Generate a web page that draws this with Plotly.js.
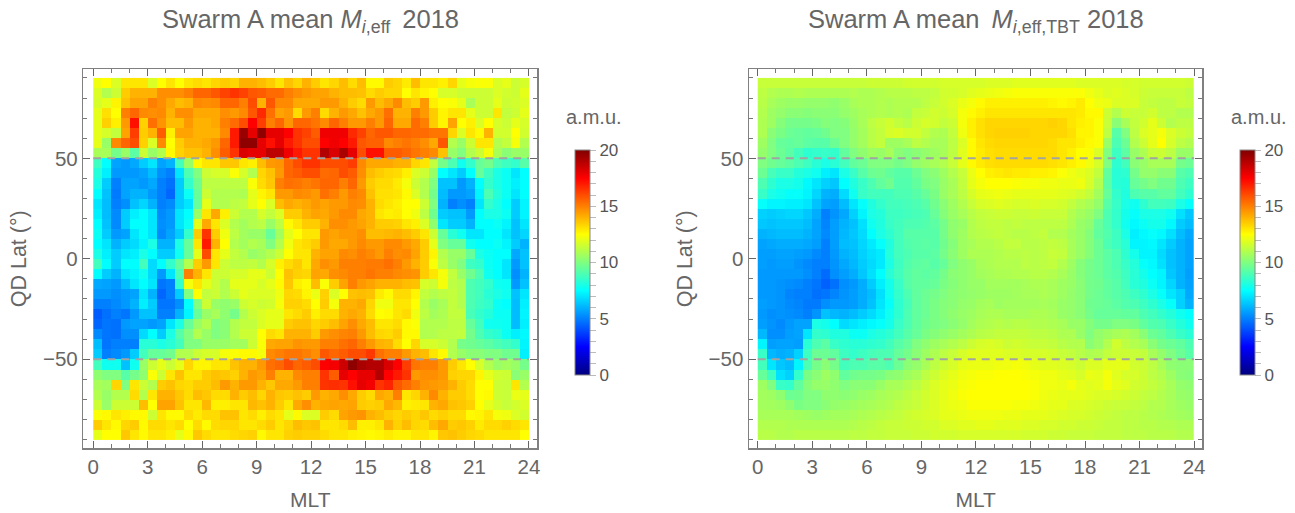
<!DOCTYPE html>
<html><head><meta charset="utf-8">
<script src="https://cdn.plot.ly/plotly-3.0.1.min.js"></script>
<style>html,body{margin:0;padding:0;background:#fff}#g{width:1295px;height:513px}</style>
</head><body><div id="g"></div>
<script>
const mlt=[0.25,0.75,1.25,1.75,2.25,2.75,3.25,3.75,4.25,4.75,5.25,5.75,6.25,6.75,7.25,7.75,8.25,8.75,9.25,9.75,10.25,10.75,11.25,11.75,12.25,12.75,13.25,13.75,14.25,14.75,15.25,15.75,16.25,16.75,17.25,17.75,18.25,18.75,19.25,19.75,20.25,20.75,21.25,21.75,22.25,22.75,23.25,23.75];
const lat=[87.5,82.5,77.5,72.5,67.5,62.5,57.5,52.5,47.5,42.5,37.5,32.5,27.5,22.5,17.5,12.5,7.5,2.5,-2.5,-7.5,-12.5,-17.5,-22.5,-27.5,-32.5,-37.5,-42.5,-47.5,-52.5,-57.5,-62.5,-67.5,-72.5,-77.5,-82.5,-87.5];
const meanEff=[
[12.2,12.5,11.8,13,13,13,11.8,12.5,13,12.5,13,13.2,13,13.3,13.5,13.3,14,14,13.8,13.5,13,13.7,13.3,14,13.5,13,13.3,13.8,13.2,13.8,12.6,12.6,13.5,13.3,12.9,13.8,13,13,12.8,13.3,12,12.3,12.4,12.4,11.8,12,11.5,11.7],
[11.8,11,11.5,13.5,14,14,14,14.7,14.7,14.7,15,15.5,15.5,15.8,16.2,16.5,16.2,15.8,15.7,15.4,15.4,15,14.7,14.5,14.3,14.3,14,13.8,13.8,13.7,13.2,13.5,13.3,13.3,12.5,13,12.7,12.5,11.7,11.7,11.5,11.5,11.5,11.5,11.8,11.6,11.5,12],
[11.7,12,12.7,13.7,14.3,14.3,15,14.7,14.2,13.8,14,14.8,14.7,14.8,15.5,15.5,15,16,14,15.8,14.8,14.8,14.2,14.2,14.2,14.5,14.5,14,13.5,13.2,14.5,13.8,14.2,14.8,13.8,13.5,14.5,12.8,12.5,12.4,12,10.8,11.5,11.5,12,11.5,11.6,11.8],
[12,13.1,12.5,15,15.5,14.8,14.7,14.8,14,14.7,14.7,14.2,14.2,14.2,14.7,14.5,14.8,15.8,16.7,15.3,14.3,14.5,13.2,14.5,15,13.2,14,14.5,14.2,13.7,14.2,14.5,15.3,14,14,15,14.5,13.5,12.7,13,13,12,11.5,11.5,13,11.3,11.5,12],
[12,13.4,12.8,14.5,17.2,13.4,15.3,14.6,13.8,13.8,14.5,14,14,14.2,15,15.4,16,17.5,16.3,15,15.5,14.6,15.5,15.5,15.2,14.8,15.5,15,14.5,14.5,15,14.5,15.5,14.2,14.2,15.4,15,13.5,12.7,14.3,12.5,12.8,11.8,12.5,11.7,11.5,12,11.7],
[12,11.7,11.3,14.3,16.3,13.5,14,15.7,12.8,14.3,14.3,14,14,14,14.8,17,19.5,18,19.7,18,18,17.5,16.5,16.2,15.7,17.8,17.8,17.8,16.7,16.2,15.5,15.8,15.8,15.5,15.5,15.4,15.4,15.2,15.2,13.3,11.8,13,12.6,14,11.6,11.6,12.5,11.6],
[12,10.5,14.8,15.5,16,13.4,11.8,14.8,12.5,13.5,14,14,14.2,14.5,15.5,17,19.7,19.7,18,17.2,18,17,16.5,16,16,17.5,17.8,17.5,17,15.8,15.6,15.6,14.8,15,15.2,15,14.7,14.2,15.8,11,10.5,11.5,13,13,11,11.3,12.3,11],
[10.8,10.8,9.8,10.5,9.3,11.5,10.5,11,12.6,13.4,13.7,13.7,14,14.7,15.7,16.5,18.2,18,18,18.8,18.8,17.8,17,16.5,16.5,19,18.2,19.2,18,16,17.2,17.2,15.7,15.7,15.5,15.2,15,14.8,13.7,10.5,10,11,11.5,12.3,10.8,10.2,10.5,10.5],
[8.7,7.5,5.7,5.5,5.8,6.5,7,5.7,6,8.8,10.5,12.6,13,13,13.6,13.6,13,12.8,13.8,14.5,14.6,15.5,16,16.5,16.5,16,16,16,16.3,14.8,14.2,14.2,14.2,14,14,13.3,13,11.3,9.8,9,7.8,8.5,9.5,9.8,9,8.7,8.5,9.2],
[8.2,7.2,5.5,5.5,5.5,5.7,6.2,5.3,5,7,9,10,11.5,11.7,11.7,12.4,11.7,11,13.3,13.7,14.5,15.5,15.7,16,16,15.4,15.5,16,15.7,14.7,13.8,13.5,13.3,13.2,12.8,11.8,11.5,10.5,7.5,7,6.5,7.5,9.5,8.7,8,7.7,7,7.5],
[8,6.5,5,5.7,5.7,5.5,5.8,5,4.7,6.5,8.5,9.7,11.2,11.2,11.2,11.2,11.2,12.4,13.2,13.6,15,15.3,15.2,15,15.2,15.5,15.5,15,15.5,14.5,13.5,13.2,13.2,12.9,12.3,11.5,11,10,6.3,6.3,5.5,6,7.5,8.5,8,7.7,7.2,7.5],
[7.5,6.3,4.9,5.7,6,6,5.5,5,4.5,6.5,7.7,9.5,11.5,11,11,11,10.9,12,12.7,13,14.5,14.5,14.8,14.7,14.5,15.3,15,14.5,15,14.8,13.7,13.1,13.1,13,12.6,11.8,11,9.8,6.2,5.5,5.5,5.7,7.3,9,8.2,7.7,7,7.5],
[7,6.2,5,5.3,6.3,6.7,6,5,5.2,6.5,7,9.5,12,11,11,11.2,11.3,12,12.5,11.8,13.8,14.2,14,14.2,14.5,14.3,14.5,14.5,14.8,14.7,14,13.2,13,12.8,12.5,12.5,11.5,10,6,5,5.3,5,7,8.5,8,7.5,6.5,7.3],
[7.2,6.2,5.2,6.5,7.2,7.5,7,5.2,5.5,7,7.5,10.5,13,14.2,12.8,11.5,11,11,11.7,11.3,11.8,13.5,13.5,14,14.3,14.2,14.5,14.8,14.8,14.2,14,13,12.8,12.9,12.5,12.2,11.2,9.7,6.5,6.3,6.3,5.5,7.5,8,8,7.7,6.5,7.3],
[7.5,6.3,5.2,6.5,7.5,7.5,7,5.3,5.5,7,7.7,12,14.2,13,11.8,11,10.7,11,11.2,10.5,11.2,12.6,13,13.5,13.5,14,14.7,14.7,14.5,14.3,14,13.5,13.5,13.4,13,12.8,11.8,10.3,7,6.5,6.5,6,7.5,7.5,7.7,7.3,6.3,7],
[7.7,6.5,5.5,5.7,7,7.5,7,5.2,5.7,6.5,8.5,13.5,16.5,13.5,12.2,11.2,10.7,10.5,10.5,9.5,10.7,12,12.5,13,13,14.5,14.3,14.5,14.5,14.7,13.8,13.8,13.9,14,13.8,13.5,13,11.5,9.5,8.3,7.8,7,7,7.5,7.5,7,6.3,6.7],
[7.5,7,6,6.5,6.8,7.3,8,6,6,8,9.5,13,17,14,12.5,11,10.7,11,10.8,10,11,12.2,13,13.2,13.5,14.5,14.2,14.2,14.5,14.8,14.5,14.5,14.8,14.8,14.5,14.2,13.5,12,10,9.5,9.5,7.8,7.5,7.5,7.7,7.3,6.5,6],
[8,7.2,6.5,7,7.2,8,7.5,6.5,6.5,7.8,9.5,12,16,13,12,11.3,11,10.5,10.7,11,11.5,12.5,13,13,14,14.3,14.3,14.8,14.7,15,14.8,14.5,15,14.7,14.8,14.3,13.5,12.7,11,10.5,10.5,9.5,8,7.7,7.5,7.5,5.8,6.3],
[8.8,7.5,6.5,7.5,7.5,8.8,6.8,7.5,8.5,9.5,11,13.5,14.5,13,11.5,11.2,11.2,11.3,11,11.7,12.8,13.2,13.5,13,14.2,14.7,14.5,15,15,15,15.1,15.1,15.3,15,14.5,14,13.5,12.4,11.2,10.5,10,8.7,8.5,7.7,7.5,7,5.5,6.3],
[7.5,6.5,6,7,7.3,7.8,6.8,5.5,7,9,15,14,13,11.5,11.5,11.7,11.7,12,12,11.5,12.5,13.7,13.4,13.3,14.3,14.2,14.7,14.8,15,15,15.2,15,15,14.8,14.7,14.6,13.5,13,12.3,11.3,10.5,9.7,9,7.8,7.5,7,5.3,6],
[5.8,5.7,5.5,6.2,7,7.5,7,4.8,5,8.5,12.3,13,12,11.5,11,12,12,12,11.7,12,12.6,13.6,12.8,12.6,13.8,12.4,13.5,14.3,15,14.5,14.3,14,14,14,13.8,13.7,11.7,11.5,12.3,11.2,11,9,8.8,8.5,7.8,7.7,5.5,6.3],
[5.5,5.5,5.3,5.5,5.7,7,6,4.5,5,6.5,10,12.5,11.3,11.5,11,11.5,12,11.8,11.8,11.8,12.2,13.3,13.2,12.7,12.1,13.4,11.8,12.5,13.7,13.8,13.7,12.9,12.6,13.2,13.2,12.7,11.3,11,11.2,11.3,11,9,8.8,8.3,8,7.8,6.3,7],
[5,5,5.2,5.5,6,7.2,6.5,4.8,4.8,5.3,7.5,10,11.5,10.5,10.3,10.5,11.5,11.7,11.5,11.6,12.3,13.4,13.4,13.2,12.5,13.5,12.3,14,14,14.2,13.3,12.2,12.2,13,13,12.5,11,10.5,10.8,11.3,11,9,8.7,8.5,7.7,7.5,6.2,7.2],
[4.3,4.7,5,4.8,5.5,6.3,6.3,5,5,6,7.3,9.5,10.5,10.8,10.3,9.8,11,11.5,11.8,12,12,13,13.2,13.5,12.8,13.2,13.2,14,14.2,14,13.2,12.5,12.6,13,13.2,12.2,11.2,10.7,10.9,11.3,11.3,8.9,8.5,8.2,7.7,7.7,6.2,7.3],
[4.5,4.8,4.7,5.5,5.7,5.7,5.5,5.7,7,8,9.5,10.5,11,10,10.2,11,11.3,11.3,11.8,12,12,13.5,13.7,13.7,13.3,13.5,13.8,14.3,14.7,14.2,13.8,13,13,13.2,12.6,12.4,11,11,11,11.2,11.2,9.5,8.8,7.8,7.8,7.7,6.2,7.2],
[5.2,4.8,4.7,5.3,5.3,6.8,7.5,6.5,8,9.2,10,11,10.5,10,10.2,11,11.5,11.5,12.5,13.2,13,14,14,14,13.5,14.5,14.7,14.9,15,14.5,13.8,13.3,13.2,13.5,12.6,12.6,11,11,11.2,11.2,11.3,9.8,9,8.5,8.3,7.7,7.2,7.4],
[6.2,4.8,5,5,5,8.3,8.3,8,8.3,8.8,10,10,10.5,10.5,10.5,10.7,10.7,11.5,12.4,14.2,14.3,14.3,14.6,14.5,14.5,15,15,15.3,15.5,15,14.5,14,13.9,13.2,12.5,13.3,11.7,11.7,11.5,11,9.8,9.7,9.5,9.3,9,8.8,8.5,7.3],
[6.5,5,5.2,5.5,6.5,8.8,9.5,9.5,9.7,11,11,11.5,11.7,11.7,12.3,12.4,12.6,12.6,12.3,14.8,15,15.2,15.2,15,14.7,15.8,15.5,15.7,16,16,16.4,15.3,15,15,14.5,14,13.8,13,12.6,11,10.5,10.2,10.2,10,10,9.7,9.7,7.2],
[8.8,7.8,7.8,6.3,7.8,10.5,11.5,12,11.5,12,13.3,12.7,12.7,13,13,13.7,14,14,14.5,15.3,15.5,16,15.5,15.7,16,17.5,17.7,18.5,19.7,19.2,19,19,18.2,17.5,16.3,15.2,15,15,14.5,13.5,13,12.5,11.7,11,10.5,10.7,10.5,9.8],
[10.3,10,10,9.2,9.8,10.3,12.4,11.5,13,13.7,13,13,13.5,13.7,13.6,13.4,14,14.5,14.3,15,14,14,14.8,15,15,16.5,15.7,18,17.5,18,18,19,17.5,17,16.5,14.5,14.7,14.7,14.5,13.4,13.3,13.3,12.7,12,11.6,11.5,10.2,10.5],
[10.8,10.7,13.3,10,13,11.5,11,13.5,13.7,13.3,13.2,13.5,13.5,13.8,14.5,14,14.5,14.5,14,13.6,14.2,14.2,14.5,15,15,16.5,16.6,16.5,17.2,18,17.7,16.5,16.8,15.8,15.4,15,14.6,14.5,14.4,14,13.5,13.2,12.5,12.5,11.5,11.4,13,11],
[11,10.5,11,11,13.2,11,13,14,14,13.6,13.2,13.8,13.6,13.2,13.2,14,13.5,13.8,13.3,14,13.6,13.5,13.7,13.5,14.5,14,14.2,14.7,14.2,13.5,13.2,14.2,14,15,13,13.3,14,14.8,14,13.5,13.5,13.2,12.5,12.6,11.5,11.4,12.1,12],
[11.5,10.5,11.5,11.5,11.5,13.8,12.5,14.3,14.3,13.7,13,13,13.9,12.8,12.8,13,13,13.9,13.7,14,13.5,13,14.2,14.7,14,14.2,14.3,14.2,14.3,13.5,13.4,13.5,14.2,13.9,12.8,12.9,13,14,14.2,13.7,13.6,13.4,12.5,12,11.6,11.4,11.6,11.8],
[12.4,12.6,13,12.8,12.6,12.6,11.5,13,12.6,12.6,13.2,12.9,13.2,13.2,13.7,13.7,13,13.2,12.8,13.2,13,12,12.6,11.8,11.8,13.5,13.2,14.3,14.5,14.6,14,13.8,13.5,13.3,13.5,13.3,13.6,13.2,13.4,13.2,13.2,12.6,12.7,13,12.3,12.2,11.8,11.6],
[13.5,13,12.6,13.3,13.5,12.6,13.2,13.2,13,13.2,12.5,13.2,12.6,13.2,13.3,13.3,13,13,13.2,13.5,13,13.3,13.8,13.6,13.7,13,13,13.2,13.8,12.8,12.8,13,14,13.4,13.8,13.3,13.2,13.8,14.2,13.5,13.6,13.4,12.9,13.2,13.2,13.4,13.2,13],
[12,12.5,12.5,13.6,13,12.6,13,13,12.8,12,12.6,13.6,13.2,13,13,13.2,13.3,13.4,12.6,13,13,13.4,13.5,13.4,13.4,13.2,13,13,12.8,12.7,12.6,12.7,12.9,12.7,12.7,13,13,12.7,13.6,13.7,13.5,13.3,13.2,13,13,13,13,12.5]
];
const meanEffTBT=[
[11.4,11.4,11.4,11.4,11.4,11.4,11.4,11.4,11.4,11.4,11.4,11.4,11.5,11.5,11.5,11.5,11.6,11.6,11.6,11.6,11.7,11.7,11.7,11.7,11.7,11.8,11.8,11.8,11.9,11.9,11.9,11.9,11.9,11.9,11.9,11.8,11.8,11.8,11.8,11.8,11.7,11.7,11.6,11.6,11.6,11.6,11.6,11.5],
[11.2,11,10.9,10.9,11,10.9,10.9,10.9,10.9,10.9,11,10.9,10.9,11,11.1,11.1,11.1,11.2,11.2,11.3,11.6,11.6,11.7,11.9,12,12.1,12.2,12.3,12.4,12.4,12.4,12.4,12.4,12.4,12.4,12.4,12.2,12,11.8,11.9,11.8,11.7,11.5,11.4,11.4,11.4,11.4,11.2],
[11.1,10.8,10.6,10.5,10.5,10.4,10.4,10.4,10.3,10.5,10.8,10.9,10.9,11,10.9,11,11,11,11.2,11.4,11.6,11.8,12.1,12.3,12.6,12.8,12.8,12.8,12.8,12.8,12.8,12.8,12.7,12.6,12.7,12.9,12.5,12.2,12.1,11.8,11.8,11.8,11.4,11.3,11.2,11.2,11.4,11.3],
[11,10.6,10.4,10.2,10.2,10.1,10.2,10.2,10.2,10.4,10.6,10.8,10.9,11,10.9,11,10.9,11.3,11.4,11.6,11.5,11.7,12.3,12.6,12.8,13,13,13,13,13,13,13,13,13,13,12.9,12.6,12.6,11.5,11,11.5,11.4,11.4,11.6,11.2,11.2,11,11],
[10.9,10.6,10.1,9.8,9.8,9.8,9.9,10.1,10,10.1,10.5,10.8,11.2,11.4,11.6,11.3,11.1,11.5,11.7,11.6,11.3,11.5,12.3,12.8,13.1,13.3,13.3,13.3,13.3,13.3,13.3,13.3,13.4,13.3,13,12.8,12.7,12.4,11.4,10.2,10.8,11.3,11.6,12,11.5,11,11.2,11.2],
[10.9,10.2,9.9,9.6,9.5,9.4,9.5,9.7,10,10,10.4,10.7,11.1,11.3,11.7,11.8,11.6,11.6,11.3,11,10.9,11.3,12.2,12.8,13.1,13.3,13.4,13.4,13.4,13.4,13.3,13.3,13.3,13.3,13.1,12.7,12.7,12.4,11.2,9.2,10,11.2,11.8,12,12.3,11.8,11.5,11.3],
[10.6,10,9.5,9.4,9.5,9.3,9.2,9.2,9.6,10,10.4,10.7,11.1,11.3,10.6,10.6,10.8,11.2,11,10.8,10.8,11.2,11.8,12.6,13,13.2,13.3,13.3,13.3,13.3,13.3,13.3,13.2,13,13,12.8,12.6,12.4,10.5,9,9.6,11,11.5,12,12.5,11.7,11.2,11],
[10.4,10,9.6,9.3,8.8,8.4,8.5,8.6,8.5,9.4,10,10.3,10.6,10.5,10.8,10.2,10,10.2,10.4,10.6,10.8,11.2,11.9,12.6,12.9,13.1,13.2,13.2,13.2,13.2,13.2,13.2,13.2,13,12.8,12.5,12.4,11.8,10,8.7,9.3,10.5,10.9,11.4,11.5,11.2,10.5,10.5],
[10,9.7,9.5,9.3,9,8.7,8.3,8,8.3,8.8,9.4,9.6,10,10,10,9.8,10,10.4,10.6,10.8,11,11.4,12,12.6,12.9,13.1,13.2,13.2,13.2,13.2,13.2,13.2,13.1,13,12.8,12.6,12.2,11.7,10,8.4,8.8,10.2,10.5,10.8,10.8,10.8,9.8,9.6],
[9.6,8.9,8.6,8.6,8.2,8,7.8,7.2,7,8,8.6,9.2,9.6,9.7,9.4,9.2,9.2,9.6,10,10.2,10.6,11,11.4,12.1,12.5,12.8,12.9,13,12.9,12.9,12.8,12.8,12.7,12.4,12.2,12,11.8,11.3,9.4,8.3,8.4,9.8,10.4,10.4,10.2,10.2,9.2,9],
[9,8.4,8,8,7.9,7.4,7,6.6,6.4,7.5,8.1,8.6,9,9.4,9.7,9.1,9.1,9.4,9.9,10,10.5,10.8,11.3,12,12.3,12.5,12.5,12.5,12.4,12.3,12.3,12.2,12.2,12.1,12.1,12.2,11.7,11,9.3,8.3,8.2,9.5,9.8,10,9.7,9.7,9,8.7],
[8.6,8,7.8,7.6,7.6,7.3,6.7,6,5.9,6.8,7.8,8.6,8.8,8.8,8.8,9,9,9.2,9.5,9.9,10.5,10.8,11.2,11.7,12,12.1,12.2,12.1,12,12,12,12,12,11.9,11.8,11.6,11.3,10.7,9.5,8.5,8.1,9,9.2,9.2,9.4,9.4,8.8,8.4],
[7.6,7.3,7.3,7.2,7.2,7,6.3,5.7,5.6,6.2,7,7.6,8.1,8.5,8.8,8.8,8.9,9,9.2,9.7,10.2,10.6,11,11.4,11.7,11.8,11.9,11.8,11.7,11.7,11.8,11.7,11.7,11.6,11.3,11,10.8,10.4,9.2,8.6,8,7.8,8.4,8.8,8.8,8.7,8,7.6],
[6.6,6.5,6.6,6.7,6.7,6.4,5.9,5,5.4,5.8,6.6,7.3,8,8.2,8.7,8.7,8.8,8.9,9,9.5,10.1,10.5,10.8,11.1,11.3,11.4,11.5,11.5,11.4,11.4,11.5,11.4,11.4,11.4,11,10.7,10.5,10,9,8.5,7.9,7.6,8,8,8,7.8,6.9,6.4],
[6.4,6.3,6.4,6.4,6.4,6.2,5.7,5.1,5.6,6,6.3,6.9,7.8,8.1,8.6,8.8,9,9,9.1,9.3,9.8,10.3,10.5,11,11.2,11.3,11.3,11.2,11.3,11.2,11.2,11.2,11.2,11.2,10.9,10.5,10.3,9.5,9,8.5,7.8,7.4,7.7,7.9,7.9,7.4,6.5,6.2],
[6,6.1,6.2,6.2,6.2,6,5.7,5.2,5.6,6.1,6.4,6.8,7.5,8,8.4,8.8,9.2,9.2,9.2,9.2,9.8,10.3,10.6,11,11.1,11.2,11.3,11.2,11.1,11.1,11.2,11.3,11,11,10.7,10.5,10.1,9.4,9.1,8.7,8,7.2,7.4,7.6,7.4,6.9,6.2,5.8],
[5.7,5.8,5.9,5.9,5.9,5.8,5.6,5,5.6,6.2,6.3,6.7,7.1,7.6,8.1,8.8,9.1,9.2,9.3,9.2,9.7,10.1,10.6,10.8,11,11,11.1,11.3,11.3,11.1,11.1,11.2,11.3,11.2,10.8,10.5,10.1,9.6,9,8.7,8.3,7.3,7.3,7.4,7,6.5,6,5.7],
[5.6,5.6,5.7,5.7,5.6,5.5,5.2,5,5.5,6,6.2,6.6,6.9,7.1,8.2,8.8,9,9.2,9.2,9.3,9.8,10.2,10.6,10.9,10.9,10.9,11,11.1,11.1,11.2,11.1,11.2,11.4,11.3,10.8,10.5,10.1,9.6,9.3,9,8.4,7.9,7.3,7.3,6.8,6.3,6,5.7],
[5.6,5.5,5.6,5.6,5.4,5.2,5,5,5.4,5.8,6.1,6.5,6.8,7.1,8,8.7,9.1,9.3,9.4,9.2,9.5,10,10.3,10.5,10.8,10.9,11,11,11,11.2,11.1,11.2,11.3,11,10.6,10.1,9.8,9.6,9.3,9,8.6,8.2,7.6,7.4,6.9,6.3,6,5.7],
[5.5,5.5,5.5,5.5,5.5,5.3,5,4.6,5.3,5.6,5.9,6.4,6.9,7.5,8.3,8.8,9.2,9.4,9.3,9.4,9.8,10.2,10.3,10.5,10.7,10.8,10.9,10.9,11,11,11.1,11.1,11,10.8,10.5,10.1,9.8,9.6,9.3,9.1,8.7,8.3,7.9,7.5,7.3,6.4,6,5.6],
[5.5,5.5,5.4,5.3,5.2,5,4.8,4.4,4.7,5.3,5.5,5.9,6.5,7.2,7.9,8.6,9.2,9.4,9.4,9.5,9.9,10.1,10.3,10.5,10.5,10.7,10.7,10.7,10.7,10.8,10.9,10.9,10.8,10.6,10.5,10.2,9.8,9.7,9.4,9.2,8.8,8.3,8.1,7.7,7.3,6.7,6,5.7],
[5.5,5.5,5.4,5.1,5,5,4.7,4.8,5.1,5.4,5.6,5.9,6.2,6.9,7.8,8.5,9,9.4,9.6,9.8,10,10.2,10.3,10.4,10.5,10.6,10.6,10.6,10.7,10.8,10.8,10.9,10.8,10.6,10.4,10.2,9.8,9.6,9.4,9.2,9,8.7,8.4,8,7.6,7,6.6,5.8],
[5.6,5.5,5.4,5.2,5.1,4.9,4.9,5.3,5.5,5.5,5.6,5.9,6.3,7,7.6,8.4,8.9,9.4,9.6,9.9,10.1,10.2,10.4,10.5,10.7,10.8,10.6,10.7,10.7,10.7,10.7,10.8,10.7,10.5,10.4,10.2,9.7,9.6,9.5,9.3,9.1,9,8.7,8.4,8,7.6,6.6,6],
[5.5,5.3,5.4,5.3,5.2,5,5.4,6.3,6.1,6,6.2,6.5,6.8,7.2,7.8,8.4,9,9.4,9.6,9.9,10.1,10.3,10.5,10.6,10.8,10.9,10.9,10.8,10.8,10.8,10.9,10.9,10.8,10.5,10.4,10.2,9.8,9.5,9.5,9.5,9.4,9.4,9,8.8,8.5,8.2,7.8,7.5],
[5.6,5.4,5.2,5.5,5.7,5.7,8,7.9,7.5,6.8,7,7.2,7.4,7.6,7.9,8.6,9,9.4,9.7,9.9,10,10.2,10.4,10.7,10.9,11,11.1,11,11.1,11.1,11,11,10.9,10.8,10.5,10.5,10.1,9.8,9.8,10,10,9.9,9.4,9.1,9,8.6,8.2,7.8],
[6.1,5.3,5.3,5.6,5.7,7,8.5,8.4,8.1,8.1,7.7,7.7,8,8.2,8.4,8.8,9.2,9.5,9.9,10.1,10.3,10.5,10.7,10.9,11.1,11.2,11.3,11.3,11.3,11.3,11.2,11.2,11.1,10.9,10.9,10.5,10,10.4,10.6,10.8,10.9,10.7,10.2,9.6,9.4,9,8.6,8.3],
[7.3,5.6,5.7,5.7,5.6,8.3,9,9.3,8.6,8.4,8.3,8.3,8.4,8.5,8.8,9.2,9.5,10,10.3,10.6,10.8,11,11.2,11.5,11.7,11.8,11.7,11.5,11.6,11.5,11.4,11.4,11.3,11.1,11,11,10.2,10.5,11,11.6,11.2,11,10.8,10.2,9.8,9.6,9.4,9],
[8.6,6.1,5.9,6,6.6,8.7,9.6,9.6,9.4,8.7,8.5,8.7,8.9,9,9,9.5,9.8,10.2,10.6,10.9,11.2,11.4,11.7,11.9,11.9,11.9,11.9,11.8,11.8,11.7,11.7,11.7,11.6,11.4,11.3,11.1,10.9,11,11.3,11.5,11.5,11.4,11.3,10.8,10.4,10,9.6,9.2],
[8.8,7,6.4,6.2,7.3,9,9.8,10.2,9.8,8.8,9,9,9.2,9.2,9,9.6,10.2,10.4,10.8,11.2,11.5,11.7,12,12.1,12.1,12.1,12.2,12.2,12.3,12.2,12,11.9,11.9,11.8,11.7,11.5,11.8,11.8,12,12,12,11.6,11.5,11.2,10.8,10.3,10.2,10.2],
[9.5,8.7,6.9,6.6,8.5,9.9,10.2,10.6,10.3,9.4,9.7,9.8,9.8,9.9,10.2,10.3,10.6,10.8,11.2,11.5,11.8,12,12.2,12.3,12.4,12.4,12.5,12.5,12.5,12.4,12.3,12.2,12.2,12,11.9,11.7,12.1,12,12.3,11.9,11.7,11.7,11.5,11.2,11,10.6,10.2,10.1],
[10.6,10,8.6,8.5,9.4,10.1,10.4,10.5,10.3,10,10.2,10.2,10.2,10.5,10.8,10.8,11,11.2,11.5,11.8,12,12.1,12.3,12.4,12.5,12.5,12.5,12.5,12.5,12.5,12.4,12.2,12.2,12.1,12.3,12,11.9,12,12.3,12,11.9,11.6,11.5,11.3,11.1,10.8,10.4,10.3],
[10.7,10.6,10.3,9.6,9.7,10,10,10.3,10.3,10.2,10.3,10.5,10.6,10.8,10.9,11,11.2,11.4,11.6,11.8,12,12.2,12.4,12.5,12.5,12.5,12.5,12.5,12.5,12.5,12.4,12.2,12.1,12,12,12,11.9,11.8,11.8,11.7,11.6,11.5,11.3,11.2,11,10.8,10.5,10.4],
[10.7,10.7,10.6,10.3,9.9,10,10,10.2,10.4,10.5,10.6,10.7,10.8,10.9,11,11.2,11.3,11.4,11.6,11.8,12,12.1,12.2,12.4,12.4,12.4,12.4,12.4,12.3,12.3,12.2,12.1,12,12,11.8,11.8,11.7,11.6,11.5,11.4,11.4,11.3,11.2,11,11,10.8,10.6,10.5],
[10.8,10.8,10.8,10.8,10.7,10.6,10.5,10.6,10.7,10.7,10.8,10.9,11,11.1,11.2,11.3,11.5,11.6,11.7,11.8,12,12,12.1,12.2,12.2,12.2,12.2,12.1,12.1,12,12,12,11.9,11.8,11.7,11.7,11.6,11.5,11.4,11.3,11.2,11.2,11.1,11,10.9,10.8,10.7,10.6],
[11,11,11,10.9,10.9,10.9,10.9,10.9,10.9,10.9,11,11.1,11.2,11.3,11.4,11.4,11.5,11.5,11.6,11.6,11.8,11.8,11.9,11.9,12,12,11.9,11.9,11.9,11.8,11.8,11.7,11.7,11.6,11.6,11.5,11.5,11.4,11.3,11.3,11.2,11.2,11.1,11.1,11,11,10.9,10.9],
[11.1,11.1,11,11,11.1,11.1,11.1,11.1,11.1,11.1,11.2,11.2,11.3,11.3,11.4,11.4,11.4,11.5,11.5,11.6,11.6,11.6,11.7,11.7,11.7,11.7,11.7,11.7,11.7,11.6,11.6,11.6,11.5,11.5,11.4,11.4,11.4,11.3,11.3,11.3,11.2,11.2,11.2,11.1,11.1,11.1,11,11]
];
const refLat=[50,-50];
const refMlt=[0,24];
const cbTicks=[0,1,2,3,4,5,6,7,8,9,10,11,12,13,14,15,16,17,18,19,20];
const cbLabels=['0','','','','','5','','','','','10','','','','','15','','','','','20'];
const W=1295,H=513;
const jet=[[0,'rgb(0,0,128)'],[0.125,'rgb(0,0,255)'],[0.375,'rgb(0,255,255)'],[0.625,'rgb(255,255,0)'],[0.875,'rgb(255,0,0)'],[1,'rgb(128,0,0)']];
const grey='#666';
function heat(z,xa,ya,cbx){return{type:'heatmap',x:mlt,y:lat,z:z,xaxis:xa,yaxis:ya,zmin:0,zmax:20,colorscale:jet,zsmooth:false,hoverongaps:false,
 colorbar:{x:cbx/W,xanchor:'left',xpad:0,ypad:0,thickness:15,thicknessmode:'pixels',len:225/H,lenmode:'fraction',y:(H-375)/H,yanchor:'bottom',
  tickmode:'array',tickvals:cbTicks,ticktext:cbLabels,ticks:'outside',ticklen:6,tickwidth:1,tickcolor:'#bbb',tickfont:{family:'Liberation Sans',size:17,color:'#555'},outlinecolor:'#888',outlinewidth:1}}}
function dash(lat1,xa,ya){return{type:'scatter',mode:'lines',x:refMlt,y:[lat1,lat1],xaxis:xa,yaxis:ya,showlegend:false,hoverinfo:'skip',line:{color:'#a3a3a3',width:2,dash:'8px,6px'}}}
function xax(l,r,r0,r1,anchor){return{domain:[l/W,r/W],range:[r0,r1],anchor:anchor,tick0:0,dtick:3,ticks:'inside',ticklen:7,tickwidth:1,tickcolor:'#666',mirror:'ticks',showline:true,linecolor:'#808080',linewidth:1.5,showgrid:false,zeroline:false,
 minor:{dtick:1,ticks:'inside',ticklen:4,tickwidth:1,tickcolor:'#777',showgrid:false},
 tickfont:{family:'Liberation Sans',size:20.5,color:grey},title:{text:'MLT',standoff:15,font:{family:'Liberation Sans',size:21,color:grey}}}}
function yax(anchor){return{domain:[1-448.3/H,1-69.3/H],range:[-94.3,94.3],anchor:anchor,tick0:0,dtick:50,ticks:'inside',ticklen:7,tickwidth:1,tickcolor:'#666',mirror:'ticks',showline:true,linecolor:'#808080',linewidth:1.5,showgrid:false,zeroline:false,
 minor:{dtick:10,ticks:'inside',ticklen:4,tickwidth:1,tickcolor:'#777',showgrid:false},
 tickfont:{family:'Liberation Sans',size:20.5,color:grey},title:{text:'QD Lat (°)',standoff:10,font:{family:'Liberation Sans',size:21.5,color:grey}}}}
function note(t,x,y,s){return{text:t,x:x/W,y:1-y/H,xref:'paper',yref:'paper',xanchor:'center',yanchor:'middle',showarrow:false,font:{family:'Liberation Sans',size:s,color:grey}}}
const data=[heat(meanEff,'x','y',575),dash(refLat[0],'x','y'),dash(refLat[1],'x','y'),heat(meanEffTBT,'x2','y2',1240),dash(refLat[0],'x2','y2'),dash(refLat[1],'x2','y2')];
const layout={width:W,height:H,margin:{l:0,r:0,t:0,b:0},paper_bgcolor:'#fff',plot_bgcolor:'#fff',showlegend:false,
 xaxis:xax(83.3,537.3,-0.55,24.46,'y'),yaxis:yax('x'),xaxis2:xax(749,1202.3,-0.48,24.45,'y2'),yaxis2:yax('x2'),
 annotations:[note('Swarm A mean <i>M</i><sub><i>i</i>,eff&nbsp;</sub> 2018',310.5,21,25.5),note('Swarm A mean <sub>&nbsp;</sub><i>M</i><sub><i>i</i>,eff,TBT</sub> 2018',976,21,25.5),note('a.m.u.',594,117.5,20),note('a.m.u.',1259,117.5,20)]};
Plotly.newPlot('g',data,layout,{staticPlot:true,displayModeBar:false});
</script></body></html>
